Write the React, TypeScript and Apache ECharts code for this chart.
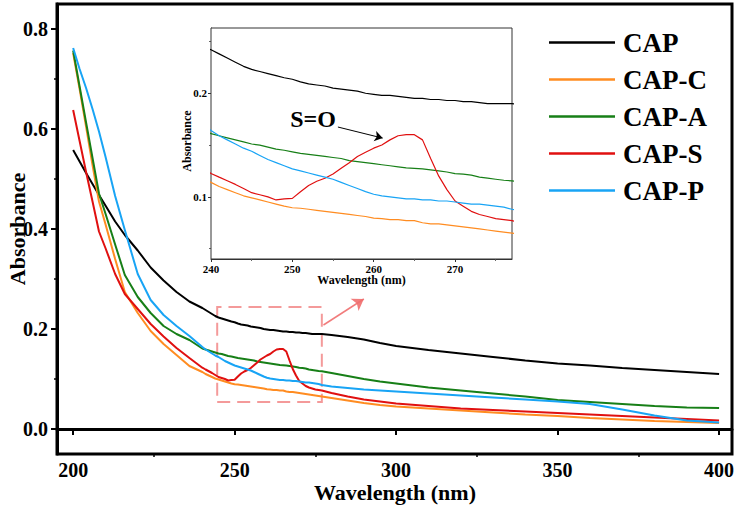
import React, { useEffect, useRef } from "react";
import * as echarts from "echarts";

const seriesNames = ["CAP", "CAP-C", "CAP-A", "CAP-S", "CAP-P"];
const seriesColors = ["#000000", "#FF8C21", "#177F17", "#E01010", "#18A4F5"];

const wavelengths = [
  200, 202, 204, 206, 208, 210, 213, 216, 220, 224, 228, 232, 236,
  240, 241, 242, 243, 244, 245, 246, 247, 248, 249, 250, 251, 252, 253, 254, 255, 256, 257, 258, 259,
  260, 261, 262, 263, 264, 265, 266, 267, 268, 269, 270, 271, 272, 273, 274, 275, 276, 277,
  280, 285, 290, 295, 300, 310, 320, 330, 340, 350, 360, 370, 380, 390, 400,
];

const capValues = [
  0.558, 0.535, 0.512, 0.49, 0.468, 0.447, 0.415, 0.388, 0.357, 0.323, 0.297, 0.274, 0.255,
  0.242, 0.238, 0.234, 0.23, 0.226, 0.223, 0.221, 0.219, 0.217, 0.215, 0.2135, 0.211, 0.209, 0.208, 0.207, 0.205, 0.204, 0.203, 0.202, 0.2,
  0.199, 0.198, 0.198, 0.197, 0.196, 0.195, 0.195, 0.194, 0.194, 0.193, 0.193, 0.192, 0.192, 0.191, 0.19, 0.19, 0.19, 0.19,
  0.188, 0.184, 0.179, 0.172, 0.166, 0.158, 0.151, 0.144, 0.137, 0.131, 0.127, 0.122, 0.118, 0.114, 0.11,
];

const capCValues = [
  0.752, 0.68, 0.605, 0.528, 0.455, 0.41, 0.34, 0.274, 0.232, 0.196, 0.17, 0.148, 0.126,
  0.114, 0.11, 0.107, 0.104, 0.101, 0.099, 0.097, 0.095, 0.093, 0.091, 0.0895, 0.089, 0.088, 0.087, 0.086, 0.085, 0.084, 0.083, 0.082, 0.081,
  0.0795, 0.079, 0.078, 0.078, 0.077, 0.077, 0.075, 0.074, 0.074, 0.073, 0.072, 0.071, 0.07, 0.069, 0.068, 0.067, 0.066, 0.065,
  0.062, 0.057, 0.052, 0.048, 0.045, 0.041, 0.037, 0.033, 0.029, 0.026, 0.022, 0.019, 0.016, 0.014, 0.012,
];

const capAValues = [
  0.757, 0.685, 0.613, 0.542, 0.471, 0.431, 0.369, 0.308, 0.264, 0.232, 0.206, 0.19, 0.178,
  0.161, 0.159, 0.157, 0.155, 0.153, 0.151, 0.15, 0.148, 0.146, 0.145, 0.1435, 0.142, 0.141, 0.14, 0.139, 0.138, 0.137, 0.135, 0.134, 0.133,
  0.132, 0.131, 0.13, 0.129, 0.128, 0.1275, 0.127, 0.126, 0.125, 0.124, 0.1225, 0.122, 0.121, 0.119, 0.118, 0.117, 0.116, 0.1155,
  0.112, 0.106, 0.1, 0.095, 0.091, 0.083, 0.077, 0.071, 0.065, 0.058, 0.054, 0.05, 0.046, 0.043, 0.042,
];

const capSValues = [
  0.638, 0.576, 0.514, 0.455, 0.395, 0.362, 0.31, 0.27, 0.24, 0.21, 0.185, 0.162, 0.142,
  0.1226, 0.119, 0.1155, 0.112, 0.108, 0.104, 0.102, 0.1, 0.097, 0.098, 0.0985, 0.105, 0.111, 0.115, 0.118, 0.122, 0.1275, 0.133, 0.139, 0.143,
  0.147, 0.15, 0.155, 0.159, 0.16, 0.16, 0.155, 0.137, 0.12, 0.107, 0.096, 0.091, 0.086, 0.083, 0.081, 0.079, 0.078, 0.077,
  0.072, 0.065, 0.059, 0.055, 0.051, 0.046, 0.041, 0.038, 0.035, 0.032, 0.029, 0.026, 0.023, 0.02, 0.017,
];

const capPValues = [
  0.762, 0.72, 0.682, 0.64, 0.595, 0.545, 0.466, 0.398, 0.31, 0.258, 0.228, 0.206, 0.186,
  0.164, 0.159, 0.155, 0.151, 0.147, 0.144, 0.14, 0.136, 0.133, 0.13, 0.127, 0.125, 0.123, 0.121, 0.119, 0.117, 0.114, 0.111, 0.108, 0.105,
  0.1025, 0.101, 0.1, 0.099, 0.098, 0.098, 0.097, 0.097, 0.096, 0.096, 0.095, 0.094, 0.093, 0.093, 0.092, 0.091, 0.09, 0.088,
  0.085, 0.082, 0.079, 0.077, 0.075, 0.071, 0.067, 0.063, 0.059, 0.055, 0.05, 0.039, 0.027, 0.017, 0.013,
];

const seriesValues = [capValues, capCValues, capAValues, capSValues, capPValues];

const mainXTicks = [200, 250, 300, 350, 400];
const mainXMinorTicks = [225, 275, 325, 375];
const mainYTicks = [0, 0.2, 0.4, 0.6, 0.8];
const mainYMinorTicks = [0.1, 0.3, 0.5, 0.7];
const insetXTicks = [240, 250, 260, 270];
const insetXMinorTicks = [245, 255, 265, 275];
const insetYTicks = [0.1, 0.2];
const insetYMinorTicks = [0.05, 0.15, 0.25];

const zoomBox = [[244.6, 0.054], [277, 0.244]];
const zoomArrow = [[277.5, 0.208], [290, 0.26]];
const peakArrow = [[255.6, 0.1674], [261.1, 0.1567]];

const FONT = "Liberation Serif";

function buildOption() {
  const mainGrid = { left: 57, top: 4, width: 675, height: 450 };
  const insetGrid = { left: 211, top: 28, width: 301, height: 231 };

  const baseAxis = (extra: any) => ({
    type: "value",
    splitLine: { show: false },
    ...extra,
  });

  const xAxis = [
    baseAxis({
      gridIndex: 0, min: 195, max: 404, position: "bottom",
      axisLine: { show: true, lineStyle: { color: "#000", width: 3 } },
      axisTick: { customValues: mainXTicks, length: 6, lineStyle: { color: "#000", width: 2 } },
      axisLabel: { customValues: mainXTicks, margin: 6, color: "#000", fontFamily: FONT, fontWeight: "bold", fontSize: 20 },
    }),
    baseAxis({
      gridIndex: 0, min: 195, max: 404, position: "top", offset: -mainGrid.height,
      axisLine: { show: false },
      axisTick: { inside: true, customValues: mainXMinorTicks, length: 3, lineStyle: { color: "#000", width: 1.5 } },
      axisLabel: { show: false },
    }),
    baseAxis({
      gridIndex: 1, min: 240, max: 277, position: "bottom",
      axisLine: { show: true, lineStyle: { color: "#333", width: 1 } },
      axisTick: { customValues: insetXTicks, length: 3, lineStyle: { color: "#333", width: 1 } },
      axisLabel: { customValues: insetXTicks, margin: 4, color: "#000", fontFamily: FONT, fontWeight: "bold", fontSize: 11 },
    }),
    baseAxis({
      gridIndex: 1, min: 240, max: 277, position: "top", offset: -insetGrid.height,
      axisLine: { show: false },
      axisTick: { inside: true, customValues: insetXMinorTicks, length: 2, lineStyle: { color: "#666", width: 1 } },
      axisLabel: { show: false },
    }),
  ];

  const yAxis = [
    baseAxis({
      gridIndex: 0, min: -0.05, max: 0.85, position: "left",
      axisLine: { show: true, lineStyle: { color: "#000", width: 3 } },
      axisTick: { customValues: mainYTicks, length: 6, lineStyle: { color: "#000", width: 2 } },
      axisLabel: {
        customValues: mainYTicks, margin: 9, color: "#000", fontFamily: FONT, fontWeight: "bold", fontSize: 20,
        formatter: (v: number) => v.toFixed(1),
      },
    }),
    baseAxis({
      gridIndex: 0, min: -0.05, max: 0.85, position: "right", offset: -mainGrid.width,
      axisLine: { show: false },
      axisTick: { inside: true, customValues: mainYMinorTicks, length: 3, lineStyle: { color: "#000", width: 1.5 } },
      axisLabel: { show: false },
    }),
    baseAxis({
      gridIndex: 1, min: 0.04, max: 0.263, position: "left",
      axisLine: { show: true, lineStyle: { color: "#333", width: 1 } },
      axisTick: { customValues: insetYTicks, length: 3, lineStyle: { color: "#333", width: 1 } },
      axisLabel: {
        customValues: insetYTicks, margin: 4, color: "#000", fontFamily: FONT, fontWeight: "bold", fontSize: 11,
        formatter: (v: number) => v.toFixed(1),
      },
    }),
    baseAxis({
      gridIndex: 1, min: 0.04, max: 0.263, position: "right", offset: -insetGrid.width,
      axisLine: { show: false },
      axisTick: { inside: true, customValues: insetYMinorTicks, length: 2, lineStyle: { color: "#666", width: 1 } },
      axisLabel: { show: false },
    }),
  ];

  const series: any[] = [];
  seriesNames.forEach((name, i) => {
    const data = wavelengths.map((w, k) => [w, seriesValues[i][k]]);
    const main: any = {
      name, type: "line", xAxisIndex: 0, yAxisIndex: 0, data,
      symbol: "none", showSymbol: false, smooth: false, z: 3,
      lineStyle: { color: seriesColors[i], width: 2 },
      itemStyle: { color: seriesColors[i] },
    };
    if (i === 0) {
      main.markArea = {
        silent: true,
        itemStyle: { color: "rgba(0,0,0,0)", borderColor: "rgba(240,120,120,0.75)", borderWidth: 2, borderType: [13, 7] },
        data: [[{ coord: zoomBox[0] }, { coord: zoomBox[1] }]],
      };
      main.markLine = {
        silent: true, symbol: ["none", "arrow"], symbolSize: 11,
        lineStyle: { color: "rgba(240,110,110,0.9)", width: 1.5, type: "solid" },
        label: { show: false },
        data: [[{ coord: zoomArrow[0] }, { coord: zoomArrow[1] }]],
      };
    }
    series.push(main);
    const inset: any = {
      name, type: "line", xAxisIndex: 2, yAxisIndex: 2, data,
      symbol: "none", showSymbol: false, clip: true, z: 5,
      lineStyle: { color: seriesColors[i], width: 1.2 },
      itemStyle: { color: seriesColors[i] },
    };
    if (i === 3) {
      inset.markLine = {
        silent: true, symbol: ["none", "arrow"], symbolSize: 8,
        lineStyle: { color: "#000", width: 1, type: "solid" },
        label: { show: false },
        data: [[{ coord: peakArrow[0] }, { coord: peakArrow[1] }]],
      };
    }
    series.push(inset);
  });

  const txt = (text: string, x: number, y: number, size: number, rotation = 0) => ({
    type: "text", x, y, rotation, z: 100,
    style: {
      text, fill: "#000", fontFamily: FONT, fontWeight: "bold", fontSize: size,
      align: "center", verticalAlign: "middle", textAlign: "center", textVerticalAlign: "middle",
    },
  });

  return {
    animation: false,
    backgroundColor: "#fff",
    grid: [
      { ...mainGrid, show: true, borderColor: "#000", borderWidth: 3, backgroundColor: "rgba(0,0,0,0)" },
      { ...insetGrid, show: true, borderColor: "#333", borderWidth: 1, backgroundColor: "#fff", z: 4 },
    ],
    xAxis,
    yAxis,
    legend: {
      data: seriesNames,
      orient: "vertical",
      left: 544,
      top: 24,
      icon: "rect",
      itemWidth: 66,
      itemHeight: 2.5,
      itemGap: 10,
      textStyle: { color: "#000", fontFamily: FONT, fontWeight: "bold", fontSize: 27, lineHeight: 27, padding: [0, 0, 0, 3] },
    },
    series,
    graphic: [
      txt("Absorbance", 17, 229, 22, Math.PI / 2),
      txt("Wavelength (nm)", 395, 492.5, 22),
      txt("Absorbance", 187, 141, 12, Math.PI / 2),
      txt("Wavelength (nm)", 361.5, 280, 12),
      txt("S=O", 313, 119, 24),
    ],
  };
}

export default function App() {
  const ref = useRef<HTMLDivElement>(null);
  useEffect(() => {
    if (!ref.current) return;
    const chart = echarts.init(ref.current, undefined, { renderer: "svg" });
    chart.setOption(buildOption() as any);
    return () => chart.dispose();
  }, []);
  return (
    <div
      ref={ref}
      style={{ position: "fixed", left: 0, top: 0, width: 738, height: 508, background: "#fff" }}
    />
  );
}
